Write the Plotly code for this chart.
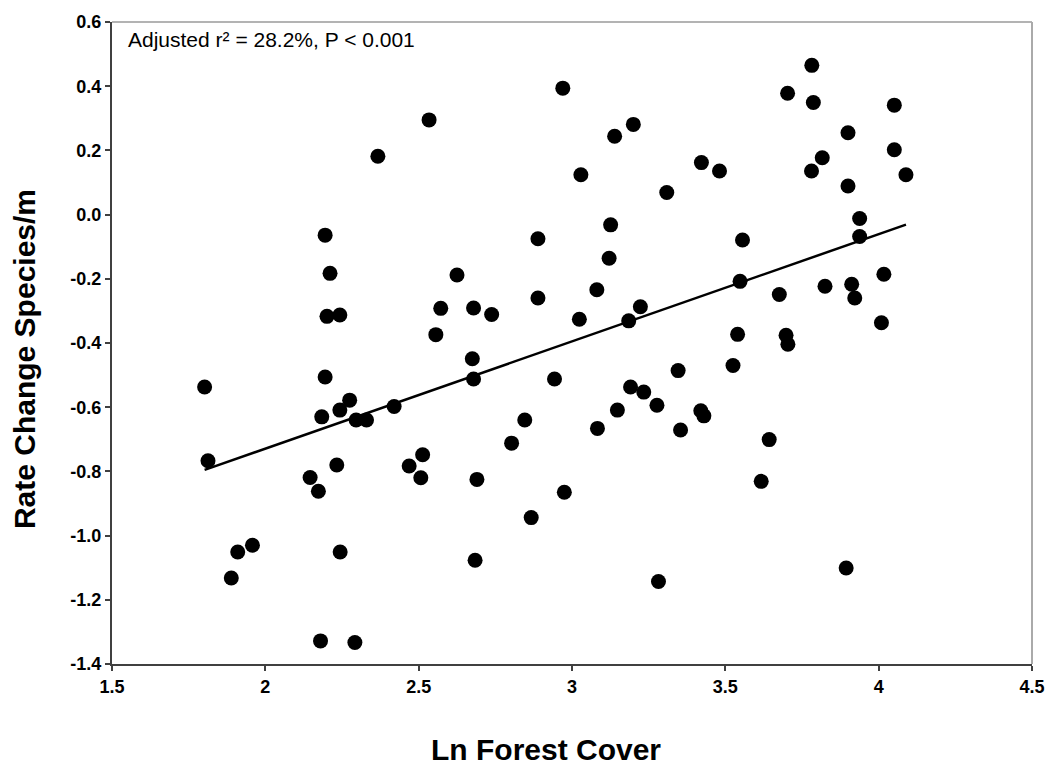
import plotly.graph_objects as go

# Data
ln_forest_cover = [
    1.802, 1.813, 1.889, 1.910, 1.958, 2.201, 2.243, 2.195, 2.275, 2.243,
    2.184, 2.296, 2.330, 2.233, 2.146, 2.173, 2.244, 2.180, 2.292, 2.556,
    2.572, 2.420, 2.469, 2.513, 2.507, 2.367, 2.195, 2.211, 2.534, 2.970,
    3.139, 3.200, 3.029, 3.422, 3.481, 3.309, 3.126, 2.889, 3.121, 3.556,
    2.625, 2.889, 3.081, 2.679, 2.738, 3.223, 3.024, 3.185, 3.548, 3.540,
    2.675, 3.782, 3.703, 3.787, 4.051, 3.900, 4.051, 3.816, 3.781, 4.089,
    3.900, 3.938, 3.938, 4.017, 3.825, 3.912, 3.922, 3.676, 4.009, 3.698,
    3.704, 3.525, 2.679, 2.943, 3.346, 3.191, 3.234, 3.277, 3.148, 3.420,
    3.430, 3.083, 3.354, 2.846, 2.803, 2.690, 2.975, 2.867, 2.684, 3.282,
    3.643, 3.617, 3.894,
]
rate_change = [
    -0.537, -0.767, -1.132, -1.051, -1.030, -0.317, -0.313, -0.506, -0.578, -0.609,
    -0.630, -0.640, -0.640, -0.780, -0.819, -0.862, -1.051, -1.328, -1.333, -0.374,
    -0.292, -0.598, -0.783, -0.748, -0.820, 0.182, -0.064, -0.183, 0.295, 0.394,
    0.244, 0.281, 0.124, 0.162, 0.136, 0.069, -0.032, -0.075, -0.136, -0.079,
    -0.188, -0.260, -0.234, -0.291, -0.311, -0.287, -0.326, -0.331, -0.208, -0.373,
    -0.449, 0.465, 0.378, 0.349, 0.341, 0.255, 0.202, 0.177, 0.136, 0.124,
    0.089, -0.012, -0.068, -0.186, -0.223, -0.217, -0.260, -0.249, -0.337, -0.376,
    -0.404, -0.470, -0.512, -0.512, -0.486, -0.537, -0.553, -0.594, -0.609, -0.611,
    -0.627, -0.666, -0.671, -0.640, -0.712, -0.825, -0.865, -0.944, -1.077, -1.143,
    -0.701, -0.831, -1.101,
]

# Regression line coefficients
fit_slope = 0.334
fit_intercept = -1.397

x_tick_vals = [1.5, 2, 2.5, 3, 3.5, 4, 4.5]
x_tick_text = ["1.5", "2", "2.5", "3", "3.5", "4", "4.5"]
y_tick_vals = [0.6, 0.4, 0.2, 0.0, -0.2, -0.4, -0.6, -0.8, -1.0, -1.2, -1.4]
y_tick_text = ["0.6", "0.4", "0.2", "0.0", "-0.2", "-0.4", "-0.6", "-0.8", "-1.0", "-1.2", "-1.4"]

stat_text = "Adjusted r² = 28.2%, P < 0.001"
x_title = "Ln Forest Cover"
y_title = "Rate Change Species/m"

fit_x = [min(ln_forest_cover), max(ln_forest_cover)]
fit_y = [fit_intercept + fit_slope * v for v in fit_x]

FONT = "Liberation Sans, Arial, sans-serif"

fig = go.Figure()
fig.add_trace(go.Scatter(
    x=ln_forest_cover, y=rate_change, mode="markers",
    marker=dict(color="black", size=15, line=dict(width=0)),
    showlegend=False,
))
fig.add_trace(go.Scatter(
    x=fit_x, y=fit_y, mode="lines",
    line=dict(color="black", width=2.5),
    showlegend=False,
))

fig.update_layout(
    width=1057, height=769,
    margin=dict(l=112, r=17, t=15, b=105),
    paper_bgcolor="white", plot_bgcolor="white",
    font=dict(family=FONT, color="black"),
    xaxis=dict(
        range=[1.5, 4.5], tickvals=x_tick_vals, ticktext=x_tick_text,
        showgrid=False, zeroline=False, showline=True, linecolor="#404040", linewidth=2,
        ticks="outside", ticklen=5, tickwidth=1.5, tickcolor="#404040",
        tickfont=dict(family=FONT, size=18, color="black", weight="bold"),
    ),
    yaxis=dict(
        range=[-1.4, 0.6], tickvals=y_tick_vals, ticktext=y_tick_text,
        showgrid=False, zeroline=False, showline=True, linecolor="#404040", linewidth=2,
        ticks="outside", ticklen=5, tickwidth=1.5, tickcolor="#404040",
        tickfont=dict(family=FONT, size=18, color="black", weight="bold"),
    ),
    shapes=[
        dict(type="line", xref="x domain", yref="y domain", x0=0, x1=1, y0=1, y1=1,
             line=dict(color="#9a9a9a", width=1.5)),
        dict(type="line", xref="x domain", yref="y domain", x0=1, x1=1, y0=0, y1=1,
             line=dict(color="#aaaaaa", width=2)),
    ],
    annotations=[
        dict(text=stat_text, xref="paper", yref="paper", x=0.015, y=0.972,
             xanchor="left", yanchor="middle", showarrow=False,
             font=dict(family=FONT, size=21, color="black")),
        dict(text=x_title, xref="paper", yref="paper", x=0.472, y=-0.1325,
             xanchor="center", yanchor="middle", showarrow=False,
             font=dict(family=FONT, size=30, color="black", weight="bold")),
        dict(text=y_title, xref="paper", yref="paper", x=-0.0948, y=0.4746,
             xanchor="center", yanchor="middle", showarrow=False, textangle=-90,
             font=dict(family=FONT, size=30, color="black", weight="bold")),
    ],
)

fig.write_html("out.html")
